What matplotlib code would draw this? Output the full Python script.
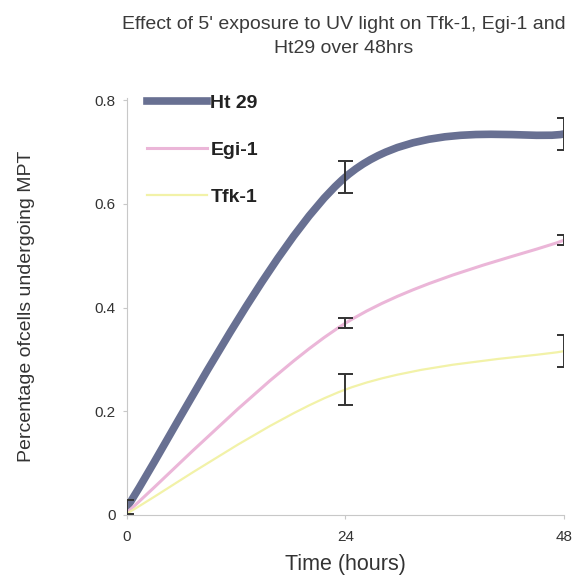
import numpy as np
import matplotlib
matplotlib.use("Agg")
import matplotlib.pyplot as plt
from matplotlib.path import Path
from matplotlib.patches import PathPatch
from matplotlib.lines import Line2D

plt.rcParams['font.family'] = ['Liberation Sans', 'DejaVu Sans']

hours = [0, 24, 48]
series_names = ["Ht 29", "Egi-1", "Tfk-1"]
ht29 = [0.015, 0.652, 0.735]
ht29_err = [0.014, 0.031, 0.030]
egi1 = [0.005, 0.370, 0.530]
egi1_err = [0.0, 0.010, 0.010]
tfk1 = [0.003, 0.242, 0.316]
tfk1_err = [0.0, 0.030, 0.031]

colors = ["#687092", "#ebb6d8", "#f2f2a8"]
widths = [5.5, 2.2, 1.6]

def smooth_path(x, y):
    # Excel-style smoothed line: cubic Bezier through the data points
    pts = np.column_stack([x, y]).astype(float)
    n = len(pts)
    verts = [pts[0]]
    codes = [Path.MOVETO]
    for i in range(n - 1):
        p_prev = pts[i - 1] if i > 0 else pts[i]
        p0, p1 = pts[i], pts[i + 1]
        p_next = pts[i + 2] if i + 2 < n else pts[i + 1]
        c1 = p0 + (p1 - p_prev) / 6.0
        c2 = p1 - (p_next - p0) / 6.0
        verts += [c1, c2, p1]
        codes += [Path.CURVE4] * 3
    return Path(verts, codes)

fig = plt.figure(figsize=(5.76, 5.78), dpi=100)
ax = fig.add_axes([0.2205, 0.109, 0.7585, 0.722])

cap_half = 0.8  # half cap width in hours
data = [ht29, egi1, tfk1]
errs = [ht29_err, egi1_err, tfk1_err]
for name, vals, err, c, w in zip(series_names, data, errs, colors, widths):
    patch = PathPatch(smooth_path(hours, vals), facecolor="none", edgecolor=c,
                      lw=w, capstyle="round", zorder=2)
    ax.add_patch(patch)
    for h, v, e in zip(hours, vals, err):
        if e <= 0:
            continue
        ax.vlines(h, v - e, v + e, colors="#333333", lw=1.4, zorder=3)
        ax.hlines([v - e, v + e], h - cap_half, h + cap_half,
                  colors="#333333", lw=1.4, zorder=3)

ax.set_xlim(0, 48)
ax.set_ylim(0, 0.805)
ax.set_xticks([0, 24, 48])
ax.set_xticklabels(["0", "24", "48"])
ax.set_yticks([0, 0.2, 0.4, 0.6, 0.8])
ax.set_yticklabels(["0", "0.2", "0.4", "0.6", "0.8"])
for s in ["top", "right"]:
    ax.spines[s].set_visible(False)
for s in ["left", "bottom"]:
    ax.spines[s].set_color("#c8c8c8")
    ax.spines[s].set_linewidth(0.8)
ax.tick_params(axis="both", colors="#c8c8c8", labelcolor="#333333",
               labelsize=11, length=3, width=0.8)
ax.tick_params(axis="x", pad=8)
ax.tick_params(axis="y", pad=5)

handles = [Line2D([0], [0], color=c, lw=w) for c, w in zip(colors, widths)]
leg = ax.legend(handles, series_names, loc="upper left",
                bbox_to_anchor=(0.015, 1.04), frameon=False,
                prop={"weight": "bold", "size": 14},
                handlelength=3.1, handletextpad=0.15, labelspacing=1.5,
                borderaxespad=0.3)
for t in leg.get_texts():
    t.set_color("#222222")

ax.set_xlabel("Time (hours)", fontsize=15.5, color="#333333", labelpad=7)
ax.set_ylabel("Percentage ofcells undergoing MPT", fontsize=14,
              color="#333333", labelpad=43)
fig.text(0.597, 0.937, "Effect of 5' exposure to UV light on Tfk-1, Egi-1 and\nHt29 over 48hrs",
         ha="center", va="center", fontsize=14, color="#3a3a3a", linespacing=1.6)

fig.savefig("out.png", dpi=100)
